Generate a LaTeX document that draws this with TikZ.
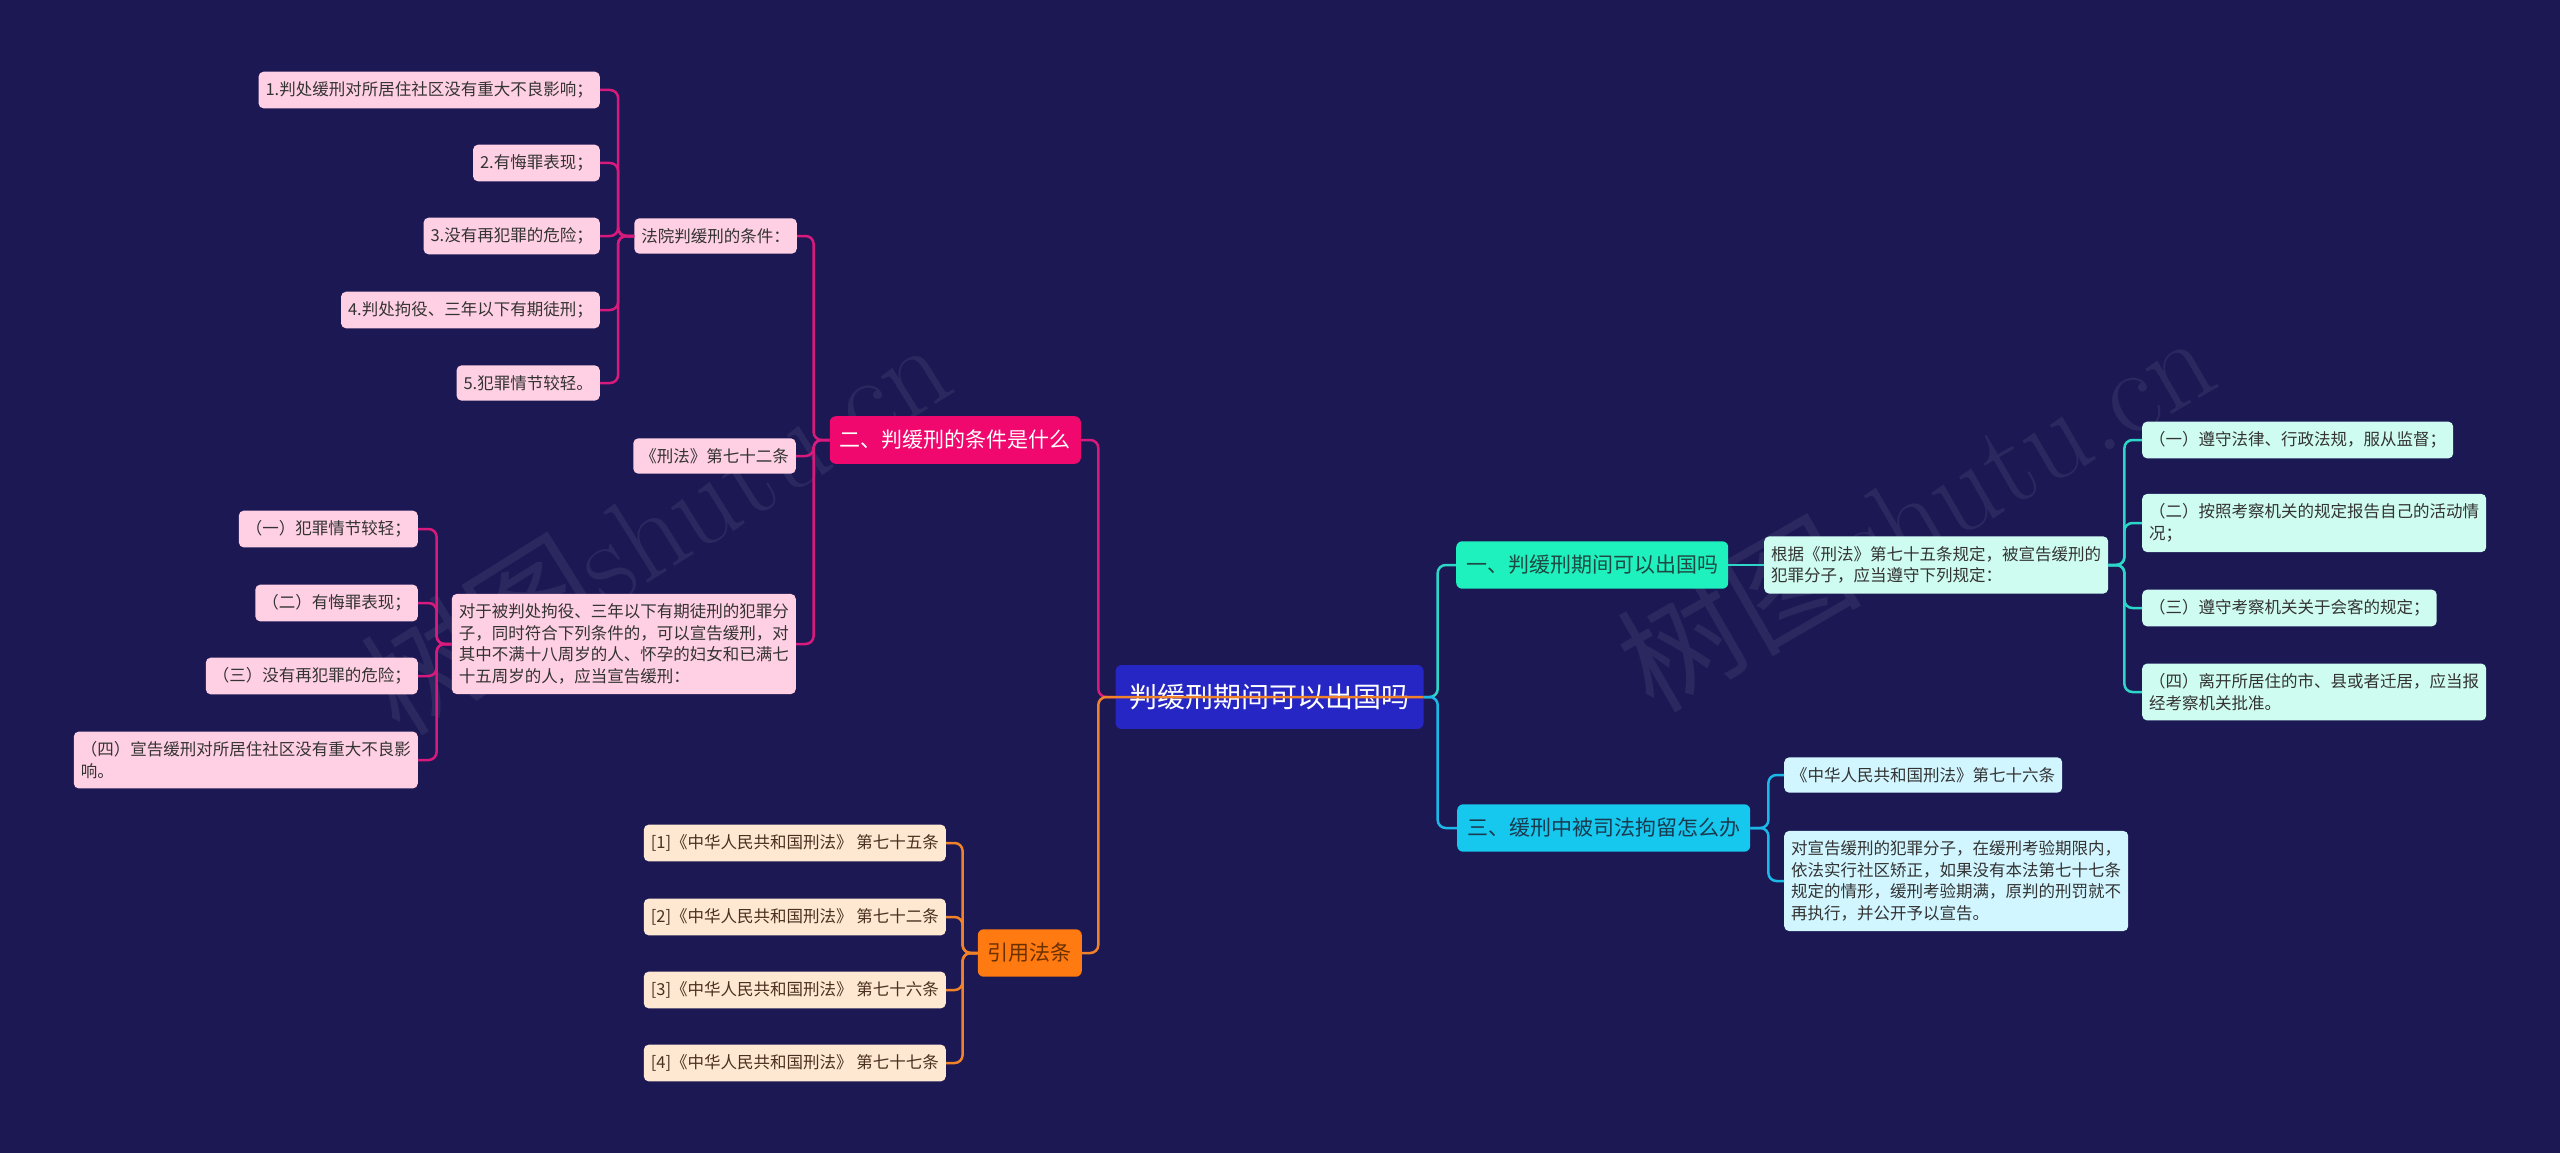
\documentclass[tikz,border=0pt]{standalone}
\usepackage{fontspec}
\usepackage{xcolor}
\usepackage{tikz}
\newfontfamily\cjk{Noto Sans CJK SC}

\definecolor{bg}{HTML}{1B1854}
\definecolor{rootfill}{HTML}{2626C4}
\definecolor{pinktop}{HTML}{F0086E}
\definecolor{pinkfill}{HTML}{FFD0E3}
\definecolor{pinkln}{HTML}{D81A7C}
\definecolor{orangetop}{HTML}{FF7A10}
\definecolor{orangefill}{HTML}{FFE8D2}
\definecolor{orangeln}{HTML}{F0822A}
\definecolor{mintop}{HTML}{1EF0BE}
\definecolor{mintfill}{HTML}{CFFCF0}
\definecolor{mintln}{HTML}{2ED6C8}
\definecolor{skytop}{HTML}{16C8EE}
\definecolor{skyfill}{HTML}{D2F6FF}
\definecolor{skyln}{HTML}{1CB8E8}
\definecolor{txt}{HTML}{333333}
\definecolor{citetxt}{HTML}{6B3000}
\definecolor{reftxt}{HTML}{4A3020}
\definecolor{minttxt}{HTML}{1E4A44}
\definecolor{skytxt}{HTML}{1A3A50}

\begin{document}
\begin{tikzpicture}[x=1pt,y=-1pt,
  leaf/.style={rounded corners=5pt,font=\cjk\fontsize{16.5}{21.5}\selectfont,
    inner xsep=7pt,inner ysep=10pt,align=left,text=txt},
  topic/.style={rounded corners=6pt,font=\cjk\fontsize{21}{26}\selectfont,
    inner xsep=10pt,inner ysep=14pt},
  link/.style={line width=2.5pt,rounded corners=8pt},
  wmark/.style={text=white,opacity=0.07,font=\fontsize{122}{130}\selectfont}
]
\fill[bg] (0,0) rectangle (2560,1153);
\useasboundingbox (0,0) rectangle (2560,1153);

% watermarks
\node[wmark,rotate=32] (wmleft) at (655,525) {\cjk 树图\rmfamily shutu.cn};
\node[wmark,rotate=30] (wmright) at (1915,510) {\cjk 树图\rmfamily shutu.cn};

% root
\node[fill=rootfill,text=white,rounded corners=6pt,font=\cjk\fontsize{28}{34}\selectfont,
  inner xsep=14pt,inner ysep=19pt] (root) at (1269.5,697) {判缓刑期间可以出国吗};

% left: conditions
\node[topic,fill=pinktop,text=white,anchor=east] (cond) at (1081,440) {二、判缓刑的条件是什么};
\node[leaf,fill=pinkfill,anchor=east] (court) at (797,236) {法院判缓刑的条件：};
\node[leaf,fill=pinkfill,anchor=east] (art72) at (796,456) {《刑法》第七十二条};
\node[leaf,fill=pinkfill,anchor=east] (rule) at (796,644) {对于被判处拘役、三年以下有期徒刑的犯罪分\\子，同时符合下列条件的，可以宣告缓刑，对\\其中不满十八周岁的人、怀孕的妇女和已满七\\十五周岁的人，应当宣告缓刑：};

\node[leaf,fill=pinkfill,anchor=east] (c1) at (600,90) {1.判处缓刑对所居住社区没有重大不良影响；};
\node[leaf,fill=pinkfill,anchor=east] (c2) at (600,163) {2.有悔罪表现；};
\node[leaf,fill=pinkfill,anchor=east] (c3) at (600,236) {3.没有再犯罪的危险；};
\node[leaf,fill=pinkfill,anchor=east] (c4) at (600,310) {4.判处拘役、三年以下有期徒刑；};
\node[leaf,fill=pinkfill,anchor=east] (c5) at (600,383) {5.犯罪情节较轻。};

\node[leaf,fill=pinkfill,anchor=east] (k1) at (418,529) {（一）犯罪情节较轻；};
\node[leaf,fill=pinkfill,anchor=east] (k2) at (418,603) {（二）有悔罪表现；};
\node[leaf,fill=pinkfill,anchor=east] (k3) at (418,676) {（三）没有再犯罪的危险；};
\node[leaf,fill=pinkfill,anchor=east] (k4) at (418,760) {（四）宣告缓刑对所居住社区没有重大不良影\\响。};

% left: cited articles
\node[topic,fill=orangetop,text=citetxt,anchor=east] (cite) at (1082,953) {引用法条};
\node[leaf,fill=orangefill,text=reftxt,anchor=east] (r1) at (946,843) {[1]《中华人民共和国刑法》 第七十五条};
\node[leaf,fill=orangefill,text=reftxt,anchor=east] (r2) at (946,917) {[2]《中华人民共和国刑法》 第七十二条};
\node[leaf,fill=orangefill,text=reftxt,anchor=east] (r3) at (946,990) {[3]《中华人民共和国刑法》 第七十六条};
\node[leaf,fill=orangefill,text=reftxt,anchor=east] (r4) at (946,1063) {[4]《中华人民共和国刑法》 第七十七条};

% right: going abroad
\node[topic,fill=mintop,text=minttxt,anchor=west] (abroad) at (1456,565) {一、判缓刑期间可以出国吗};
\node[leaf,fill=mintfill,anchor=west] (duty) at (1764,565) {根据《刑法》第七十五条规定，被宣告缓刑的\\犯罪分子，应当遵守下列规定：};
\node[leaf,fill=mintfill,anchor=west] (d1) at (2142,440) {（一）遵守法律、行政法规，服从监督；};
\node[leaf,fill=mintfill,anchor=west] (d2) at (2142,523) {（二）按照考察机关的规定报告自己的活动情\\况；};
\node[leaf,fill=mintfill,anchor=west] (d3) at (2142,608) {（三）遵守考察机关关于会客的规定；};
\node[leaf,fill=mintfill,anchor=west] (d4) at (2142,692) {（四）离开所居住的市、县或者迁居，应当报\\经考察机关批准。};

% right: detention
\node[topic,fill=skytop,text=skytxt,anchor=west] (detain) at (1457,828) {三、缓刑中被司法拘留怎么办};
\node[leaf,fill=skyfill,anchor=west] (e1) at (1784,775) {《中华人民共和国刑法》第七十六条};
\node[leaf,fill=skyfill,anchor=west] (e2) at (1784,881) {对宣告缓刑的犯罪分子，在缓刑考验期限内，\\依法实行社区矫正，如果没有本法第七十七条\\规定的情形，缓刑考验期满，原判的刑罚就不\\再执行，并公开予以宣告。};

% connectors
\draw[link,pinkln] (root.west) -- ++(-17,0) |- (cond.east);
\foreach \n in {court,art72,rule}
  \draw[link,pinkln] (cond.west) -- ++(-16,0) |- (\n.east);
\foreach \n in {c1,c2,c3,c4,c5}
  \draw[link,pinkln] (court.west) -- ++(-16,0) |- (\n.east);
\foreach \n in {k1,k2,k3,k4}
  \draw[link,pinkln] (rule.west) -- ++(-15,0) |- (\n.east);

\draw[link,orangeln] (root.east) -- (root.west) -- ++(-17,0) |- (cite.east);
\foreach \n in {r1,r2,r3,r4}
  \draw[link,orangeln] (cite.west) -- ++(-15,0) |- (\n.east);

\draw[link,mintln] (root.east) -- ++(14,0) |- (abroad.west);
\draw[link,mintln] (abroad.east) -- (duty.west);
\foreach \n in {d1,d2,d3,d4}
  \draw[link,mintln] (duty.east) -- ++(16,0) |- (\n.west);

\draw[link,skyln] (root.east) -- ++(14,0) |- (detain.west);
\foreach \n in {e1,e2}
  \draw[link,skyln] (detain.east) -- ++(18,0) |- (\n.west);
\end{tikzpicture}
\end{document}
